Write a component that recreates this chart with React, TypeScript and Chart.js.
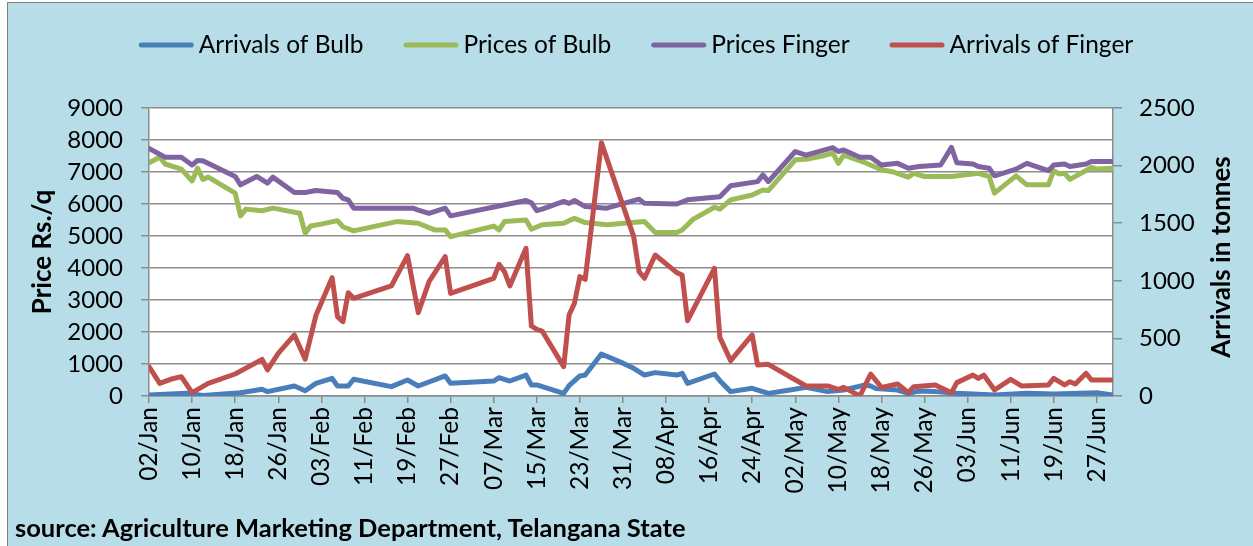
import React, { useEffect, useRef } from 'react';
import Chart from 'chart.js/auto';

// Day offsets counted from 02/Jan (day 0) to 30/Jun (day 179)
const xTickDays = [0, 8, 16, 24, 32, 40, 48, 56, 64, 72, 80, 88, 96, 104, 112, 120, 128, 136, 144, 152, 160, 168, 176];
const xTickLabels = ['02/Jan', '10/Jan', '18/Jan', '26/Jan', '03/Feb', '11/Feb', '19/Feb', '27/Feb', '07/Mar', '15/Mar', '23/Mar', '31/Mar', '08/Apr', '16/Apr', '24/Apr', '02/May', '10/May', '18/May', '26/May', '03/Jun', '11/Jun', '19/Jun', '27/Jun'];

const bulbArrivalDays = [0, 7, 10, 17, 21, 22, 27, 29, 31, 34, 35, 37, 38, 45, 48, 50, 55, 56, 64, 65, 67, 70, 71, 72, 77, 78, 80, 81, 84, 88, 90, 92, 94, 98, 99, 100, 105, 106, 108, 112, 115, 119, 122, 126, 129, 133, 134, 135, 139, 141, 143, 146, 150, 157, 163, 168, 176, 179];
const bulbArrivals = [9, 23, 5, 29, 58, 38, 87, 46, 110, 153, 87, 87, 145, 81, 139, 87, 174, 110, 130, 159, 130, 182, 96, 96, 23, 90, 174, 182, 365, 285, 240, 182, 203, 182, 197, 110, 191, 133, 38, 67, 23, 52, 75, 38, 52, 96, 87, 64, 52, 23, 43, 38, 23, 9, 23, 17, 29, 9];

const bulbPriceDays = [0, 2, 3, 6, 8, 9, 10, 11, 16, 17, 18, 21, 23, 24, 28, 29, 30, 32, 35, 36, 38, 46, 50, 53, 55, 56, 64, 65, 66, 70, 71, 73, 77, 78, 79, 81, 85, 92, 94, 98, 99, 101, 105, 106, 108, 112, 114, 115, 120, 122, 125, 127, 128, 129, 133, 136, 138, 141, 142, 144, 149, 154, 156, 157, 161, 163, 167, 168, 169, 170, 171, 175, 176, 179];
const bulbPrices = [7290, 7460, 7250, 7090, 6720, 7120, 6770, 6840, 6340, 5630, 5840, 5790, 5870, 5840, 5710, 5090, 5310, 5370, 5480, 5290, 5160, 5450, 5400, 5190, 5190, 4980, 5310, 5190, 5450, 5500, 5210, 5350, 5400, 5480, 5550, 5420, 5350, 5450, 5110, 5110, 5190, 5520, 5900, 5840, 6130, 6280, 6440, 6420, 7380, 7400, 7500, 7590, 7270, 7530, 7290, 7070, 7010, 6840, 6960, 6860, 6860, 6960, 6860, 6340, 6880, 6600, 6600, 7040, 6940, 6960, 6770, 7140, 7090, 7120];

const fingerPriceDays = [0, 3, 6, 8, 9, 10, 16, 17, 20, 22, 23, 27, 29, 31, 35, 36, 37, 38, 49, 50, 52, 55, 56, 70, 71, 72, 73, 77, 78, 79, 81, 85, 91, 92, 98, 100, 106, 108, 113, 114, 115, 120, 122, 127, 128, 129, 132, 134, 136, 139, 141, 143, 147, 149, 150, 153, 154, 156, 157, 161, 163, 167, 168, 170, 171, 174, 175, 179];
const fingerPrices = [7740, 7460, 7460, 7220, 7360, 7350, 6860, 6600, 6860, 6650, 6840, 6360, 6360, 6420, 6360, 6180, 6130, 5870, 5870, 5810, 5710, 5870, 5630, 6110, 6040, 5790, 5840, 6080, 6020, 6110, 5920, 5870, 6150, 6020, 6000, 6130, 6230, 6570, 6700, 6910, 6700, 7640, 7530, 7760, 7640, 7690, 7460, 7460, 7220, 7270, 7120, 7170, 7220, 7770, 7290, 7250, 7170, 7120, 6880, 7090, 7270, 7040, 7220, 7250, 7170, 7250, 7330, 7330];

const fingerArrivalDays = [0, 2, 4, 6, 8, 11, 16, 21, 22, 24, 27, 29, 31, 34, 35, 36, 37, 38, 45, 48, 50, 52, 55, 56, 64, 65, 66, 67, 70, 71, 72, 73, 77, 78, 79, 80, 81, 84, 90, 91, 92, 94, 98, 99, 100, 105, 106, 108, 112, 113, 115, 122, 126, 128, 129, 132, 134, 136, 139, 141, 142, 146, 149, 150, 153, 154, 155, 157, 160, 162, 167, 168, 170, 171, 172, 174, 175, 179];
const fingerArrivals = [255, 110, 145, 168, 29, 110, 191, 318, 226, 370, 530, 320, 700, 1027, 689, 645, 897, 848, 955, 1218, 723, 993, 1210, 891, 1022, 1143, 1079, 955, 1282, 608, 579, 564, 255, 703, 805, 1036, 1013, 2199, 1383, 1079, 1022, 1224, 1071, 1050, 654, 1108, 509, 307, 530, 269, 275, 87, 87, 58, 75, 0, 191, 75, 104, 29, 81, 96, 29, 116, 182, 153, 182, 52, 145, 87, 96, 153, 96, 124, 104, 197, 139, 139];

const FONT = 'Lato';
const GRID = '#8c8c8c';

const toPoints = (days: number[], vals: number[]) => days.map((d, i) => ({ x: d, y: vals[i] }));

const plotBg = {
  id: 'plotBg',
  beforeDraw(chart: any) {
    const { ctx, chartArea } = chart;
    ctx.save();
    ctx.fillStyle = '#ffffff';
    ctx.fillRect(chartArea.left, chartArea.top, chartArea.right - chartArea.left, chartArea.bottom - chartArea.top);
    ctx.restore();
  },
};

const customLegend = {
  id: 'customLegend',
  afterDraw(chart: any) {
    const ctx = chart.ctx;
    ctx.save();
    ctx.font = `24.5px ${FONT}`;
    const lineW = 55;
    const gapText = 5;
    const gapItem = 40;
    const items = chart.data.datasets.map((ds: any) => ({ text: ds.label, color: ds.borderColor, w: ctx.measureText(ds.label).width }));
    const total = items.reduce((s: number, it: any) => s + lineW + gapText + it.w, 0) + gapItem * (items.length - 1);
    let x = 636 - total / 2;
    const y = 45;
    items.forEach((it: any) => {
      ctx.strokeStyle = it.color;
      ctx.lineWidth = 5;
      ctx.lineCap = 'round';
      ctx.beginPath();
      ctx.moveTo(x + 2.5, y);
      ctx.lineTo(x + lineW - 2.5, y);
      ctx.stroke();
      x += lineW + gapText;
      ctx.fillStyle = '#000';
      ctx.textBaseline = 'middle';
      ctx.textAlign = 'left';
      ctx.fillText(it.text, x, y);
      x += it.w + gapItem;
    });
    ctx.restore();
  },
};

const rightTitle = {
  id: 'rightTitle',
  afterDraw(chart: any) {
    const { ctx, chartArea } = chart;
    ctx.save();
    ctx.translate(1222, (chartArea.top + chartArea.bottom) / 2 + 5);
    ctx.rotate(-Math.PI / 2);
    ctx.font = `bold 26px ${FONT}`;
    ctx.fillStyle = '#000';
    ctx.textAlign = 'center';
    ctx.textBaseline = 'middle';
    ctx.fillText('Arrivals in tonnes', 0, 0);
    ctx.restore();
  },
};

export default function App() {
  const ref = useRef<HTMLCanvasElement>(null);

  useEffect(() => {
    if (!ref.current) return;
    const common = { pointRadius: 0, borderWidth: 5, tension: 0, borderJoinStyle: 'round', borderCapStyle: 'round', fill: false };
    const chart = new Chart(ref.current, {
      type: 'line',
      data: {
        datasets: [
          { ...common, label: 'Arrivals of Bulb', data: toPoints(bulbArrivalDays, bulbArrivals), borderColor: '#4A7EBB', backgroundColor: '#4A7EBB', yAxisID: 'y1', order: 4 },
          { ...common, label: 'Prices of Bulb', data: toPoints(bulbPriceDays, bulbPrices), borderColor: '#9BBB59', backgroundColor: '#9BBB59', yAxisID: 'y', order: 3 },
          { ...common, label: 'Prices Finger', data: toPoints(fingerPriceDays, fingerPrices), borderColor: '#8064A2', backgroundColor: '#8064A2', yAxisID: 'y', order: 2 },
          { ...common, label: 'Arrivals of Finger', data: toPoints(fingerArrivalDays, fingerArrivals), borderColor: '#C0504D', backgroundColor: '#C0504D', yAxisID: 'y1', order: 1 },
        ] as any,
      },
      options: {
        responsive: false,
        animation: false,
        layout: { padding: { top: 108, left: 0, right: 0, bottom: 0 } },
        plugins: { legend: { display: false }, tooltip: { enabled: false } },
        scales: {
          x: {
            type: 'linear',
            min: 0,
            max: 179,
            afterBuildTicks: (s: any) => { s.ticks = xTickDays.map((v) => ({ value: v })); },
            afterFit: (s: any) => { s.height = 150; },
            ticks: {
              autoSkip: false,
              minRotation: 90,
              maxRotation: 90,
              padding: 4,
              color: '#000',
              font: { family: FONT, size: 24.5 },
              callback: (v: any) => xTickLabels[xTickDays.indexOf(Number(v))] ?? '',
            },
            grid: { drawOnChartArea: false, drawTicks: true, tickLength: 7, color: GRID, lineWidth: 1.5 },
            border: { color: GRID, width: 1.5 },
          },
          y: {
            position: 'left',
            min: 0,
            max: 9000,
            afterFit: (s: any) => { s.width = 149; },
            ticks: { stepSize: 1000, padding: 18, color: '#000', font: { family: FONT, size: 24 }, callback: (v: any) => String(v) },
            grid: { color: GRID, lineWidth: 1.5, drawTicks: true, tickLength: 8 },
            border: { color: GRID, width: 1.5 },
            title: { display: true, text: 'Price Rs./q', color: '#000', font: { family: FONT, size: 26, weight: 'bold' }, padding: { top: 27, bottom: 0 } },
          },
          y1: {
            position: 'right',
            min: 0,
            max: 2500,
            afterFit: (s: any) => { s.width = 140; },
            ticks: { stepSize: 500, padding: 17, color: '#000', font: { family: FONT, size: 24 }, callback: (v: any) => String(v) },
            grid: { drawOnChartArea: false, drawTicks: true, tickLength: 9, color: GRID, lineWidth: 1.5 },
            border: { color: GRID, width: 1.5 },
          },
        },
      } as any,
      plugins: [plotBg, customLegend, rightTitle],
    });
    return () => chart.destroy();
  }, []);

  return (
    <div style={{ position: 'fixed', left: 0, top: 0, width: 1253, height: 546, overflow: 'hidden', background: '#ffffff' }}>
      <div style={{ position: 'absolute', left: 7, top: 2, width: 1260, height: 560, background: '#B7DDE8', border: '1px solid #808080' }} />
      <canvas ref={ref} width={1253} height={546} style={{ position: 'absolute', left: 0, top: 0 }} />
      <div style={{ position: 'absolute', left: 15, top: 512, fontFamily: FONT, fontWeight: 'bold', fontSize: 25.5, lineHeight: '30px', color: '#000', whiteSpace: 'nowrap' }}>
        source: Agriculture Marketing Department, Telangana State
      </div>
    </div>
  );
}
